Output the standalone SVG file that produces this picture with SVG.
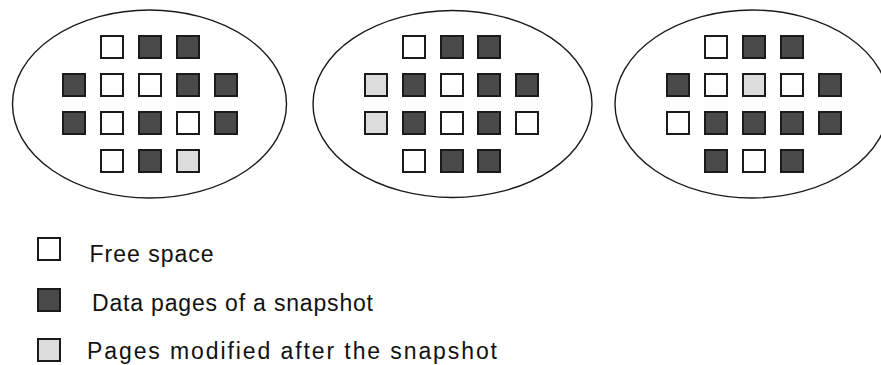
<svg xmlns="http://www.w3.org/2000/svg" width="881" height="365" viewBox="0 0 881 365">
<style>
.ell{fill:none;stroke:#1a1a1a;stroke-width:1.4}
.pg{stroke:#1a1a1a;stroke-width:2}
.w{fill:#ffffff}
.d{fill:#4a4a4a}
.l{fill:#dcdcdc}
.t{font-family:"Liberation Sans",Arial,sans-serif;font-size:23px;fill:#111}
</style>
<rect width="881" height="365" fill="#ffffff"/>
<g id="snapshot1">
<ellipse class="ell" cx="149.5" cy="104" rx="137" ry="94"/>
<rect class="pg w" x="101" y="36" width="22" height="22"/>
<rect class="pg d" x="139" y="36" width="22" height="22"/>
<rect class="pg d" x="177" y="36" width="22" height="22"/>
<rect class="pg d" x="63" y="74" width="22" height="22"/>
<rect class="pg w" x="101" y="74" width="22" height="22"/>
<rect class="pg w" x="139" y="74" width="22" height="22"/>
<rect class="pg d" x="177" y="74" width="22" height="22"/>
<rect class="pg d" x="215" y="74" width="22" height="22"/>
<rect class="pg d" x="63" y="112" width="22" height="22"/>
<rect class="pg w" x="101" y="112" width="22" height="22"/>
<rect class="pg d" x="139" y="112" width="22" height="22"/>
<rect class="pg w" x="177" y="112" width="22" height="22"/>
<rect class="pg d" x="215" y="112" width="22" height="22"/>
<rect class="pg w" x="101" y="150" width="22" height="22"/>
<rect class="pg d" x="139" y="150" width="22" height="22"/>
<rect class="pg l" x="177" y="150" width="22" height="22"/>
</g>
<g id="snapshot2">
<ellipse class="ell" cx="452.5" cy="104" rx="139.5" ry="93.5"/>
<rect class="pg w" x="403" y="36" width="22" height="22"/>
<rect class="pg d" x="441" y="36" width="22" height="22"/>
<rect class="pg d" x="478" y="36" width="22" height="22"/>
<rect class="pg l" x="365" y="74" width="22" height="22"/>
<rect class="pg d" x="403" y="74" width="22" height="22"/>
<rect class="pg w" x="441" y="74" width="22" height="22"/>
<rect class="pg d" x="478" y="74" width="22" height="22"/>
<rect class="pg d" x="516" y="74" width="22" height="22"/>
<rect class="pg l" x="365" y="112" width="22" height="22"/>
<rect class="pg d" x="403" y="112" width="22" height="22"/>
<rect class="pg w" x="441" y="112" width="22" height="22"/>
<rect class="pg d" x="478" y="112" width="22" height="22"/>
<rect class="pg w" x="516" y="112" width="22" height="22"/>
<rect class="pg w" x="403" y="150" width="22" height="22"/>
<rect class="pg d" x="441" y="150" width="22" height="22"/>
<rect class="pg d" x="478" y="150" width="22" height="22"/>
</g>
<g id="snapshot3">
<ellipse class="ell" cx="752" cy="104" rx="137" ry="94"/>
<rect class="pg w" x="705" y="36" width="22" height="22"/>
<rect class="pg d" x="743" y="36" width="22" height="22"/>
<rect class="pg d" x="781" y="36" width="22" height="22"/>
<rect class="pg d" x="667" y="74" width="22" height="22"/>
<rect class="pg w" x="705" y="74" width="22" height="22"/>
<rect class="pg l" x="743" y="74" width="22" height="22"/>
<rect class="pg w" x="781" y="74" width="22" height="22"/>
<rect class="pg d" x="819" y="74" width="22" height="22"/>
<rect class="pg w" x="667" y="112" width="22" height="22"/>
<rect class="pg d" x="705" y="112" width="22" height="22"/>
<rect class="pg d" x="743" y="112" width="22" height="22"/>
<rect class="pg d" x="781" y="112" width="22" height="22"/>
<rect class="pg d" x="819" y="112" width="22" height="22"/>
<rect class="pg d" x="705" y="150" width="22" height="22"/>
<rect class="pg w" x="743" y="150" width="22" height="22"/>
<rect class="pg d" x="781" y="150" width="22" height="22"/>
</g>
<g id="legend">
<g id="legend-free">
<rect class="pg w" x="38" y="238" width="22" height="22"/>
<text class="t" x="89.5" y="261.5" textLength="124" lengthAdjust="spacing">Free space</text>
</g>
<g id="legend-data">
<rect class="pg d" x="38" y="289" width="22" height="22"/>
<text class="t" x="92" y="311" textLength="281" lengthAdjust="spacing">Data pages of a snapshot</text>
</g>
<g id="legend-modified">
<rect class="pg l" x="38" y="339" width="22" height="22"/>
<text class="t" x="87" y="359" textLength="410" lengthAdjust="spacing">Pages modified after the snapshot</text>
</g>
</g>
</svg>
